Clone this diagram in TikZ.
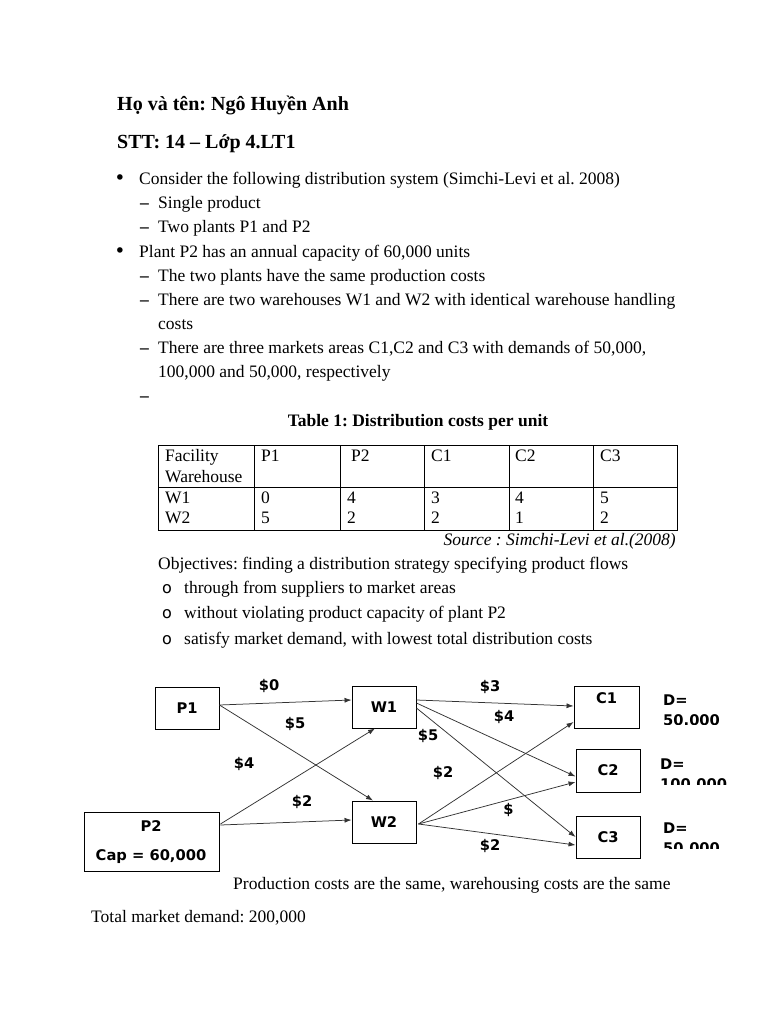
\documentclass[tikz,border=0pt]{standalone}
\usepackage{fontspec}
\setmainfont{Liberation Serif}
\newfontfamily\dvs{DejaVu Sans}
\usetikzlibrary{arrows.meta,calc}
\begin{document}
\frenchspacing
\begin{tikzpicture}[x=1pt,y=-1pt,
  txt/.style={anchor=base west,inner sep=0pt,font=\fontsize{17.5}{20}\selectfont},
  hd/.style={anchor=base west,inner sep=0pt,font=\fontsize{20}{24}\selectfont\bfseries},
  bul/.style={anchor=base,inner sep=0pt,font=\dvs\fontsize{19}{20}\selectfont},
  dsh/.style={anchor=base west,inner sep=0pt,font=\fontsize{17.5}{20}\selectfont\bfseries},
  box/.style={draw,line width=0.9pt,inner sep=0pt,font=\dvs\bfseries\fontsize{14.7}{16}\selectfont},
  lbl/.style={inner sep=0pt,font=\dvs\bfseries\fontsize{14.7}{16}\selectfont},
  arr/.style={draw=black!80,line width=0.75pt,-{Latex[length=7pt,width=5pt]}},
  tline/.style={line width=0.8pt},
]
\useasboundingbox[fill=white] (0,0) rectangle (768,1024);

% headings
\node[hd] (h1) at (117,111) {Họ và tên: Ngô Huyền Anh};
\node[hd] (h2) at (117,149) {STT: 14 – Lớp 4.LT1};

% bullets
\node[bul] (b1) at (120,185) {•};
\node[txt] (t1) at (139,185) {Consider the following distribution system (Simchi-Levi et al. 2008)};
\node[dsh] (d1) at (140,209) {–};
\node[txt] (t2) at (158,209) {Single product};
\node[dsh] (d2) at (140,233) {–};
\node[txt] (t3) at (158,233) {Two plants P1 and P2};
\node[bul] (b2) at (120,257) {•};
\node[txt] (t4) at (139,257) {Plant P2 has an annual capacity of 60,000 units};
\node[dsh] (d3) at (140,281) {–};
\node[txt] (t5) at (158,281) {The two plants have the same production costs};
\node[dsh] (d4) at (140,305) {–};
\node[txt] (t6) at (158,305) {There are two warehouses W1 and W2 with identical warehouse handling};
\node[txt] (t6b) at (158,329) {costs};
\node[dsh] (d5) at (140,353) {–};
\node[txt] (t7) at (158,353) {There are three markets areas C1,C2 and C3 with demands of 50,000,};
\node[txt] (t7b) at (158,377) {100,000 and 50,000, respectively};
\node[dsh] (d6) at (140,401) {–};

% table
\node[txt,anchor=base,font=\fontsize{17.5}{20}\selectfont\bfseries] (cap) at (418,426) {Table 1: Distribution costs per unit};
\draw[tline] (158,445) rectangle (677,530);
\draw[tline] (158,487) -- (677,487);
\foreach \xx in {254,340,424,509,593} \draw[tline] (\xx,445) -- (\xx,530);
\node[txt] (f1) at (165,461) {Facility};
\node[txt] (f2) at (165,482) {Warehouse};
\node[txt] (hp1) at (261,461) {P1};
\node[txt] (hp2) at (351,461) {P2};
\node[txt] (hc1) at (431,461) {C1};
\node[txt] (hc2) at (515,461) {C2};
\node[txt] (hc3) at (600,461) {C3};
\node[txt] (rw1) at (165,503) {W1};
\node[txt] (rw2) at (165,523) {W2};
\foreach \xx/\a/\b [count=\i] in {261/0/5,347/4/2,431/3/2,515/4/1,600/5/2}{
  \node[txt] (va\i) at (\xx,503) {\a};
  \node[txt] (vb\i) at (\xx,523) {\b};
}
\node[txt,anchor=base east,font=\fontsize{17.5}{20}\selectfont\itshape] (src) at (676,545) {Source : Simchi-Levi et al.(2008)};

% objectives
\node[txt] (ob) at (158,569) {Objectives: finding a distribution strategy specifying product flows};
\node[txt,font=\dvs\fontsize{16}{20}\selectfont] (o1) at (162,593) {o};
\node[txt] (ot1) at (184,593) {through from suppliers to market areas};
\node[txt,font=\dvs\fontsize{16}{20}\selectfont] (o2) at (162,618) {o};
\node[txt] (ot2) at (184,618) {without violating product capacity of plant P2};
\node[txt,font=\dvs\fontsize{16}{20}\selectfont] (o3) at (162,644) {o};
\node[txt] (ot3) at (184,644) {satisfy market demand, with lowest total distribution costs};

% diagram boxes
\node[box,minimum width=64pt,minimum height=42pt] (p1) at (187,708) {P1};
\node[box,minimum width=64pt,minimum height=42pt] (w1) at (384,707) {W1};
\node[box,minimum width=135pt,minimum height=59pt] (p2) at (151.5,841.5) {};
\node[lbl] (p2a) at (151,826) {P2};
\node[lbl] (p2b) at (151,857) {Cap = 60,000};
\node[box,minimum width=64pt,minimum height=42pt] (w2) at (384,822) {W2};
\node[box,minimum width=65pt,minimum height=42pt] (c1) at (606.5,707) {};
\node[lbl] (c1l) at (606.5,698) {C1};
\node[box,minimum width=64pt,minimum height=43pt] (c2) at (608,770.5) {C2};
\node[box,minimum width=64pt,minimum height=42pt] (c3) at (608,837) {C3};

% arrows
\draw[arr] ($(p1.east)+(0,-3)$) -- ($(w1.west)+(0,-7)$);
\draw[arr] ($(p1.east)+(0,-3)$) -- ($(w2.north)+(-11,0)$);
\draw[arr] ($(p2.east)+(1,-17.5)$) -- ($(w1.south)+(-9,0)$);
\draw[arr] ($(p2.east)+(1,-16.5)$) -- ($(w2.west)+(0,-2)$);
\draw[arr] ($(w1.east)+(0,-7)$) -- ($(c1.west)+(0,-1)$);
\draw[arr] ($(w1.east)+(0,-4)$) -- ($(c2.west)+(0,6)$);
\draw[arr] ($(w1.east)+(0,1)$) -- (c3.west);
\draw[arr] ($(w2.east)+(2,2)$) -- ($(c1.west)+(0,15)$);
\draw[arr] ($(w2.east)+(2,2)$) -- ($(c2.west)+(0,11.5)$);
\draw[arr] ($(w2.east)+(2,2)$) -- ($(c3.west)+(0,8)$);

% cost labels
\node[lbl] (l1) at (269,686) {\$0};
\node[lbl] (l2) at (295,724) {\$5};
\node[lbl] (l3) at (244,764) {\$4};
\node[lbl] (l4) at (302,802) {\$2};
\node[lbl] (l5) at (490,687) {\$3};
\node[lbl] (l6) at (504,717) {\$4};
\node[lbl] (l7) at (428,736) {\$5};
\node[lbl] (l8) at (443,773) {\$2};
\node[lbl,fill=white,inner sep=1pt] (l9) at (508.5,810) {\$};
\node[lbl] (l10) at (490,846) {\$2};

% demands (clipped)
\node[lbl,anchor=west] (dd1) at (663,700) {D=};
\begin{scope}
  \clip (655,708) rectangle (740,724);
  \node[lbl,anchor=west] (dn1) at (663,720) {50.000};
\end{scope}
\node[lbl,anchor=west] (dd2) at (660,764) {D=};
\begin{scope}
  \clip (655,772) rectangle (740,784);
  \node[lbl,anchor=west] (dn2) at (660,784) {100.000};
\end{scope}
\node[lbl,anchor=west] (dd3) at (663,828) {D=};
\begin{scope}
  \clip (655,836) rectangle (740,848);
  \node[lbl,anchor=west] (dn3) at (663,848) {50.000};
\end{scope}

% bottom text
\node[txt] (bt1) at (233,889) {Production costs are the same, warehousing costs are the same};
\node[txt] (bt2) at (91,922) {Total market demand: 200,000};
\end{tikzpicture}
\end{document}
